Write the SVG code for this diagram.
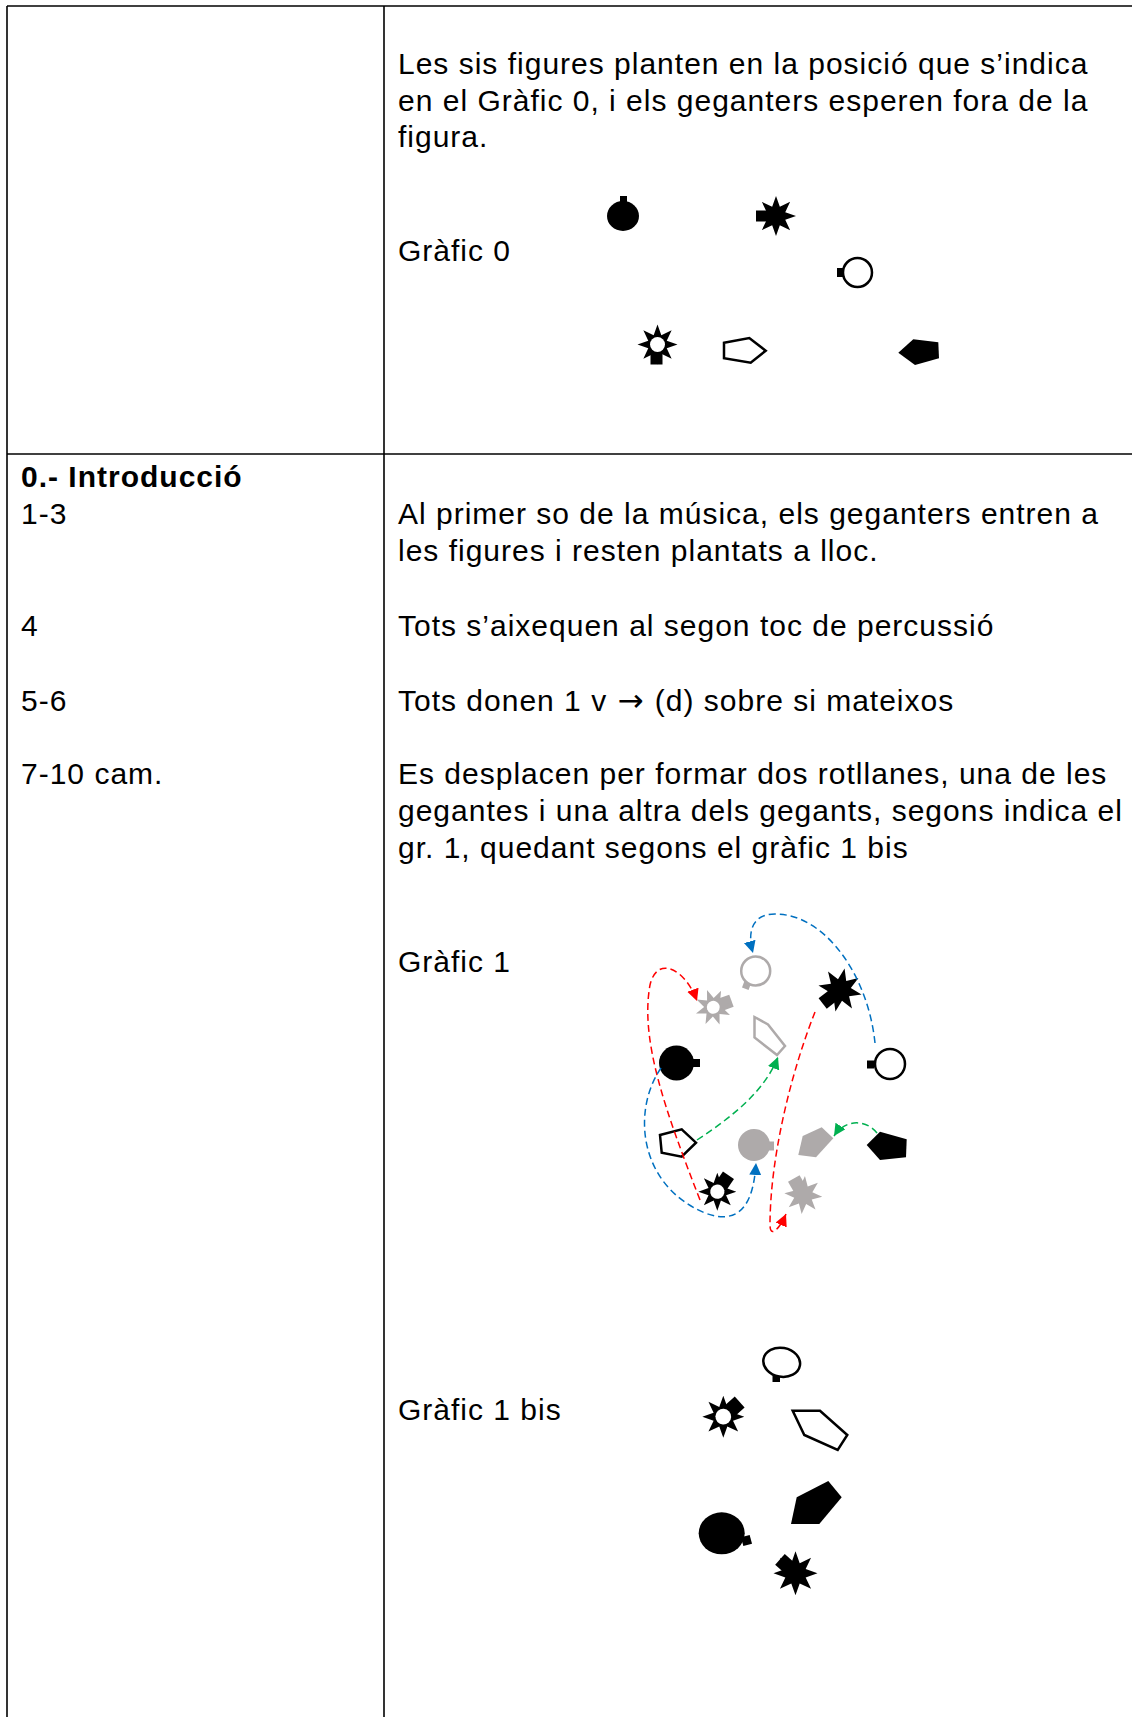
<svg xmlns="http://www.w3.org/2000/svg" xmlns:xlink="http://www.w3.org/1999/xlink" width="1132" height="1717" viewBox="0 0 1132 1717">
<style>
.t{font-family:"Liberation Sans",Arial,sans-serif;font-size:30px;letter-spacing:1px;fill:#000}
.b{font-weight:bold}
.arw{font-family:"DejaVu Sans",sans-serif;font-size:31px;letter-spacing:2px}
.tbl{stroke:#000;stroke-width:1.6;fill:none}
.blk{fill:#000}
.gry{fill:#aeaaaa}
.wht{fill:#fff}
.olb{fill:#fff;stroke:#000;stroke-width:2.5}
.olg{fill:#fff;stroke:#aeaaaa;stroke-width:2.5}
.c{fill:none;stroke-width:1.5;stroke-dasharray:7 4}
.red{stroke:#ff0000}
.blue{stroke:#0070c0}
.green{stroke:#00b050}
</style>
<defs>
<path id="star" d="M0,-20 L3.83,-9.24 L14.14,-14.14 L9.24,-3.830 L20,0 L9.24,3.83 L14.14,14.14 L3.83,9.24 L0,20 L-3.83,9.24 L-14.14,14.14 L-9.24,3.83 L-20,0 L-9.24,-3.83 L-14.14,-14.14 L-3.83,-9.24 Z"/>
<marker id="ar" markerUnits="userSpaceOnUse" markerWidth="13" markerHeight="13" refX="12" refY="6" orient="auto"><path d="M0,0 L12,6 L0,12 Z" fill="#ff0000"/></marker>
<marker id="ab" markerUnits="userSpaceOnUse" markerWidth="13" markerHeight="13" refX="12" refY="6" orient="auto"><path d="M0,0 L12,6 L0,12 Z" fill="#0070c0"/></marker>
<marker id="ag" markerUnits="userSpaceOnUse" markerWidth="13" markerHeight="13" refX="12" refY="6" orient="auto"><path d="M0,0 L12,6 L0,12 Z" fill="#00b050"/></marker>
</defs>
<rect width="1132" height="1717" fill="#fff"/>

<g id="table">
<line class="tbl" x1="7" y1="6" x2="1132" y2="6"/>
<line class="tbl" x1="7" y1="6" x2="7" y2="1717"/>
<line class="tbl" x1="384" y1="6" x2="384" y2="1717"/>
<line class="tbl" x1="7" y1="454" x2="1132" y2="454"/>
</g>

<g id="texts">
<text class="t" x="398" y="74">Les sis figures planten en la posició que s’indica</text>
<text class="t" x="398" y="111">en el Gràfic 0, i els geganters esperen fora de la</text>
<text class="t" x="398" y="147">figura.</text>
<text class="t" x="398" y="261">Gràfic 0</text>
<text class="t b" x="21" y="487">0.- Introducció</text>
<text class="t" x="21" y="524">1-3</text>
<text class="t" x="398" y="524">Al primer so de la música, els geganters entren a</text>
<text class="t" x="398" y="561">les figures i resten plantats a lloc.</text>
<text class="t" x="21" y="636">4</text>
<text class="t" x="398" y="636">Tots s’aixequen al segon toc de percussió</text>
<text class="t" x="21" y="711">5-6</text>
<text class="t" x="398" y="711">Tots donen 1 v <tspan class="arw" dx="1">→</tspan> (d) sobre si mateixos</text>
<text class="t" x="21" y="784">7-10 cam.</text>
<text class="t" x="398" y="784">Es desplacen per formar dos rotllanes, una de les</text>
<text class="t" x="398" y="821">gegantes i una altra dels gegants, segons indica el</text>
<text class="t" x="398" y="858">gr. 1, quedant segons el gràfic 1 bis</text>
<text class="t" x="398" y="972">Gràfic 1</text>
<text class="t" x="398" y="1420">Gràfic 1 bis</text>
</g>

<!-- Gràfic 0 -->
<g id="g0-circle-black" class="blk">
<rect x="620" y="196" width="7" height="6"/>
<ellipse cx="623" cy="216" rx="16" ry="15"/>
</g>
<g id="g0-star-black" class="blk" transform="translate(776,216)">
<rect x="-20" y="-5.5" width="14" height="11"/>
<use xlink:href="#star"/>
</g>
<g id="g0-circle-white">
<rect class="blk" x="837" y="268" width="6" height="9"/>
<circle class="olb" cx="857.5" cy="272.5" r="14.5"/>
</g>
<g id="g0-sun" transform="translate(657.5,344.5)">
<rect class="blk" x="-7" y="8" width="12" height="12"/>
<use class="blk" xlink:href="#star"/>
<circle class="wht" r="7.5"/>
</g>
<g id="g0-pent-white">
<polygon class="olb" points="724,342.7 749.3,338 765.7,350.7 750.7,362.7 724,358.3"/>
</g>
<g id="g0-pent-black">
<polygon class="blk" points="898.3,352.7 913.3,339.3 938.3,342.3 939,358.3 915,365"/>
</g>

<!-- Gràfic 1 -->
<g id="g1-circle-gray-outline">
<rect class="gry" x="743" y="982" width="7" height="7" transform="rotate(20 746.5 985.5)"/>
<circle class="olg" cx="755.7" cy="971" r="14.5"/>
</g>
<g id="g1-sun-gray" transform="translate(713.3,1007.3) rotate(-20) scale(0.92)">
<rect class="gry" x="6" y="-7" width="15" height="14"/>
<use class="gry" xlink:href="#star"/>
<circle class="wht" r="7"/>
</g>
<g id="g1-pent-gray-outline">
<polygon class="olg" points="754.5,1017 768,1024.5 785,1046 777,1055 754.5,1037.5"/>
</g>
<g id="g1-circle-black" class="blk">
<rect x="692" y="1059" width="8" height="8"/>
<circle cx="676.5" cy="1063" r="17.5"/>
</g>
<g id="g1-star-black" class="blk" transform="translate(840,990) rotate(142) scale(1.1)">
<rect x="5" y="-6" width="15" height="12"/>
<use xlink:href="#star" transform="rotate(-130)"/>
</g>
<g id="g1-circle-white">
<rect class="blk" x="867" y="1060.5" width="7" height="8"/>
<circle class="olb" cx="890" cy="1064" r="15"/>
</g>
<g id="g1-pent-black-outline">
<polygon class="olb" points="660,1135 681.7,1129.3 696,1142.7 681.7,1156.7 661.7,1152.7"/>
</g>
<g id="g1-circle-gray">
<rect class="gry" x="767" y="1141.5" width="7" height="9"/>
<circle class="gry" cx="754" cy="1145" r="16"/>
</g>
<g id="g1-pent-gray">
<polygon class="gry" points="798.3,1155 802.7,1136 821.7,1127.3 833.3,1138.3 816,1157.3"/>
</g>
<g id="g1-pent-black">
<polygon class="blk" points="866.7,1145 880,1131.7 906.7,1139.3 906,1157.3 880,1160"/>
</g>
<g id="g1-sun-black" transform="translate(717.3,1191.7) rotate(-56) scale(0.95)">
<rect class="blk" x="6" y="-7" width="15" height="14"/>
<use class="blk" xlink:href="#star" transform="rotate(56)"/>
<circle class="wht" r="7.5"/>
</g>
<g id="g1-star-gray" class="gry" transform="translate(803.3,1195) rotate(-120) scale(0.95)">
<rect x="5" y="-7" width="15" height="14"/>
<use xlink:href="#star" transform="rotate(125)"/>
</g>

<!-- Gràfic 1 bis -->
<g id="g1b-ellipse-white">
<rect class="blk" x="772.5" y="1375.5" width="7.5" height="6.5"/>
<ellipse class="olb" cx="781.7" cy="1362.3" rx="18.5" ry="14.5" transform="rotate(10 781.7 1362.3)"/>
</g>
<g id="g1b-sun" transform="translate(723.3,1416.7) rotate(-42) scale(1.05)">
<rect class="blk" x="6" y="-7" width="15" height="14"/>
<use class="blk" xlink:href="#star" transform="rotate(42)"/>
<circle class="wht" r="7.5"/>
</g>
<g id="g1b-pent-white">
<polygon class="olb" points="792.7,1410.7 820,1410.7 847.3,1435 837.7,1450 804.3,1435"/>
</g>
<g id="g1b-ellipse-black" class="blk">
<rect x="742" y="1536" width="9" height="9" transform="rotate(-15 746.5 1540.5)"/>
<ellipse cx="721.7" cy="1533.3" rx="23" ry="21"/>
</g>
<g id="g1b-pent-black">
<polygon class="blk" points="791,1524 796.7,1497.3 828.3,1481 841.7,1497.3 819.3,1524"/>
</g>
<g id="g1b-star-black" class="blk" transform="translate(795.5,1573.3) rotate(-138) scale(1.1)">
<rect x="5" y="-6.5" width="14" height="13"/>
<use xlink:href="#star" transform="rotate(138)"/>
</g>

<g id="connectors">
<path class="c blue" marker-end="url(#ab)" d="M875,1043 C868,975 825,914 775,914 C752,914 747,932 753,953"/>
<path class="c red" marker-end="url(#ar)" d="M700,1200 C665,1110 640,1040 650,985 C657,955 685,968 697,1001"/>
<path class="c red" marker-end="url(#ar)" d="M815,1012 C790,1075 770,1160 770,1225 C770,1238 779,1230 786,1214"/>
<path class="c green" marker-end="url(#ag)" d="M697,1140 C735,1115 765,1090 778,1057"/>
<path class="c green" marker-end="url(#ag)" d="M877,1133 C866,1119 845,1119 834,1136"/>
<path class="c blue" marker-end="url(#ab)" d="M661,1068 C632,1110 638,1185 705,1213 C745,1228 754,1195 756,1163"/>
</g>
</svg>
